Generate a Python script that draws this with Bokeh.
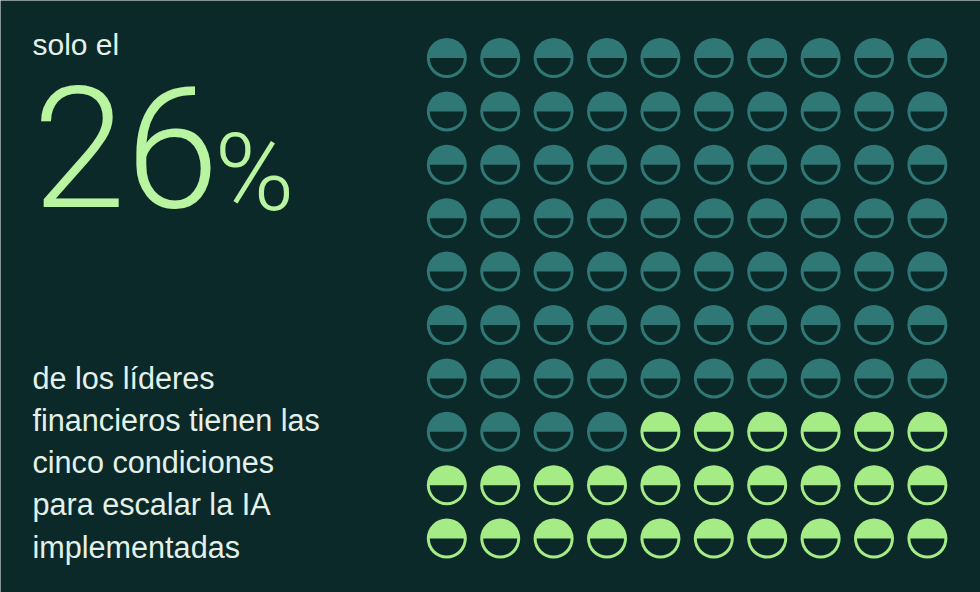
import numpy as np
from bokeh.plotting import figure
from bokeh.models import Range1d
from bokeh.core.properties import value
from bokeh.embed import file_html
from bokeh.resources import INLINE

# ---- data ----
total_cells = 100
highlight_count = 26
n_rows = 10
n_cols = 10
intro_text = "solo el"
big_number = "26"
big_unit = "%"
para_lines = ["de los líderes", "financieros tienen las", "cinco condiciones",
              "para escalar la IA", "implementadas"]

# ---- style ----
BG = "#0a2928"
TEAL = "#307876"
GREEN = "#a5ec86"
BIG_GREEN = "#b9f5a1"
WHITE = "#e4f1ea"

W, H = 980, 592
p = figure(width=W, height=H, output_backend="svg", toolbar_location=None,
           x_range=Range1d(0, W), y_range=Range1d(0, H), min_border=0)
p.axis.visible = False
p.grid.visible = False
p.outline_line_color = None
p.background_fill_color = BG
p.border_fill_color = BG

def X(px):
    return px
def Y(py):
    return H - py

# grid positions
x0, y0, step = 446.3, 57.5, 53.4
idx = np.arange(total_cells)
rows = idx // n_cols
cols = idx % n_cols
cx = X(x0 + step * cols)
cy = Y(y0 + step * rows)
colors = np.where(idx >= total_cells - highlight_count, GREEN, TEAL)

R_OUT, R_IN = 20, 17
p.circle(cx, cy, radius=R_OUT, radius_units="screen", fill_color=colors, line_color=None)
p.wedge(cx, cy, radius=R_IN, radius_units="screen", start_angle=np.pi, end_angle=2 * np.pi,
        direction="anticlock", fill_color=BG, line_color=None)

# texts
p.text([X(32)], [Y(44)], text=[intro_text], text_font=value("Liberation Sans"),
       text_font_size="30px", text_color=WHITE, text_baseline="alphabetic")
p.text([X(32)], [Y(146)], text=[big_number], text_font=value("Roboto Light"),
       text_font_size="168px", text_color=BIG_GREEN, text_baseline="alphabetic")
p.text([X(214)], [Y(172)], text=[big_unit], text_font=value("Roboto Light"),
       text_font_size="108px", text_color=BIG_GREEN, text_baseline="alphabetic")

base0, lh = 377, 42.3
ly = [Y(base0 + lh * i) for i in range(len(para_lines))]
p.text([X(32)] * len(para_lines), ly, text=para_lines, text_font=value("Liberation Sans"),
       text_font_size="30.6px", text_color=WHITE, text_baseline="alphabetic")

open("out.html", "w").write(file_html(p, INLINE))
